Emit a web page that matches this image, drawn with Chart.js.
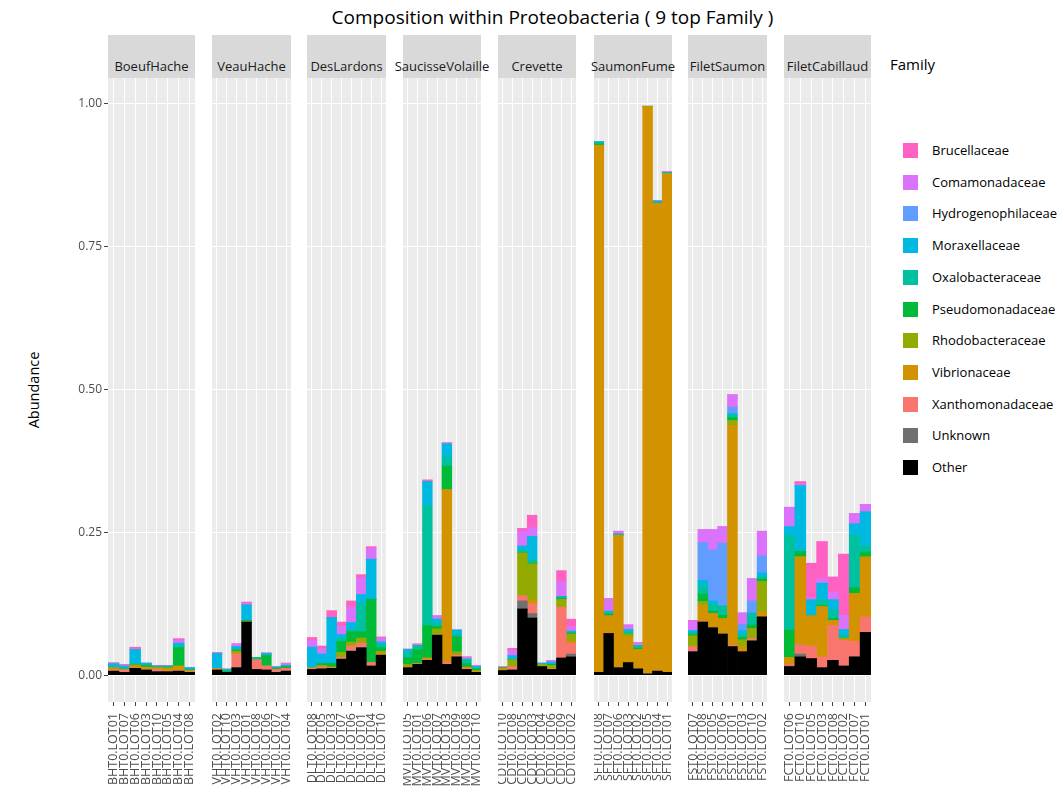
<!DOCTYPE html>
<html><head><meta charset="utf-8">
<script src="https://cdn.jsdelivr.net/npm/chart.js@4.4.1/dist/chart.umd.min.js"></script>
<style>
body{margin:0;width:1063px;height:788px;position:relative;background:#fff;font-family:'Open Sans',sans-serif;overflow:hidden}
.strip{position:absolute;top:35px;height:43px;background:#d9d9d9;display:flex;justify-content:center;align-items:flex-end;font-size:13px;line-height:15px;color:#1a1a1a;white-space:nowrap;box-sizing:border-box;padding-bottom:4px}
canvas{position:absolute}
#title{position:absolute;top:4px;left:0;width:1105px;text-align:center;font-size:19px;color:#000}
#ytitle{position:absolute;left:33px;top:390px;transform:translate(-50%,-50%) rotate(-90deg);font-size:14.5px;color:#000;white-space:nowrap}
#legtitle{position:absolute;left:890px;top:54px;font-size:15px;color:#000}
.li{position:absolute;left:903px;height:16px;font-size:13px;color:#000;white-space:nowrap}
.li span.sw{position:absolute;left:0;top:0;width:15px;height:15px}
.li span.tx{position:absolute;left:29px;top:-1px;line-height:17px}
</style></head><body>
<div id="title">Composition within Proteobacteria ( 9 top Family )</div>
<div id="ytitle">Abundance</div>
<div id="legtitle">Family</div>
<div id="legend"></div>
<script>
const facets = ['BoeufHache','VeauHache','DesLardons','SaucisseVolaille','Crevette','SaumonFume','FiletSaumon','FiletCabillaud'];
const samples = [
 'BHT0.LOT01','BHT0.LOT07','BHT0.LOT06','BHT0.LOT03','BHT0.LOT10','BHT0.LOT05','BHT0.LOT04','BHT0.LOT08',
 'VHT0.LOT02','VHT0.LOT10','VHT0.LOT03','VHT0.LOT01','VHT0.LOT08','VHT0.LOT06','VHT0.LOT07','VHT0.LOT04',
 'DLT0.LOT08','DLT0.LOT05','DLT0.LOT03','DLT0.LOT07','DLT0.LOT06','DLT0.LOT01','DLT0.LOT04','DLT0.LOT10',
 'MVT0.LOT05','MVT0.LOT01','MVT0.LOT06','MVT0.LOT07','MVT0.LOT03','MVT0.LOT09','MVT0.LOT08','MVT0.LOT10',
 'CDT0.LOT10','CDT0.LOT08','CDT0.LOT05','CDT0.LOT03','CDT0.LOT04','CDT0.LOT06','CDT0.LOT09','CDT0.LOT02',
 'SFT0.LOT08','SFT0.LOT07','SFT0.LOT06','SFT0.LOT03','SFT0.LOT02','SFT0.LOT05','SFT0.LOT04','SFT0.LOT01',
 'FST0.LOT07','FST0.LOT08','FST0.LOT05','FST0.LOT06','FST0.LOT01','FST0.LOT03','FST0.LOT10','FST0.LOT02',
 'FCT0.LOT06','FCT0.LOT10','FCT0.LOT05','FCT0.LOT03','FCT0.LOT08','FCT0.LOT02','FCT0.LOT07','FCT0.LOT01'];
const yTicks = [0, 0.25, 0.5, 0.75, 1.0];

// one array per family, 8 facets x 8 samples
const Other = [
 .007,.005,.012,.009,.006,.006,.007,.005,
 .009,.005,.013,.093,.010,.009,.005,.007,
 .010,.011,.012,.028,.042,.048,.016,.035,
 .013,.019,.026,.070,.019,.032,.010,.005,
 .008,.009,.116,.100,.015,.010,.030,.032,
 .005,.073,.013,.022,.011,.002,.007,.005,
 .041,.093,.083,.072,.050,.041,.060,.102,
 .015,.032,.029,.013,.026,.016,.032,.075];
const Unknown = [
 0,0,0,0,0,0,0,0,
 0,0,0,0,0,0,0,0,
 0,0,0,0,0,0,0,0,
 0,0,0,0,0,0,0,0,
 0,0,.014,.008,0,0,0,.005,
 0,0,0,0,0,.001,0,0,
 0,0,0,0,0,0,0,0,
 .001,.005,0,0,0,0,0,0];
const Xanthomonadaceae = [
 .002,.004,.001,.001,.004,.001,.001,.001,
 .001,0,.024,0,.016,.007,.005,.005,
 .002,.003,.001,.003,.009,.008,.006,0,
 .001,.001,.001,0,.004,.003,.002,0,
 .001,.006,.009,.017,0,.001,.089,.019,
 0,0,0,0,0,0,0,0,
 .009,0,0,0,.002,0,.004,0,
 .003,.016,.022,.019,.061,.045,.027,.027];
const Vibrionaceae = [
 .004,.001,.003,.004,.003,.005,.008,.002,
 .002,0,.002,0,.001,0,0,0,
 .001,.001,.001,0,0,0,0,.003,
 0,0,.003,0,.302,0,.002,.002,
 0,0,0,.006,0,0,0,.003,
 .922,.031,.232,.045,.034,.992,.819,.873,
 0,.029,.025,.027,.385,.009,0,.009,
 .012,.154,.053,.088,.009,.003,.084,.105];
const Rhodobacteraceae = [
 0,0,.002,0,0,.001,0,0,
 0,0,.003,.001,0,0,0,0,
 0,.002,0,.009,.007,.009,0,.004,
 .005,0,0,.011,0,.006,0,.001,
 .004,.012,.075,.064,.004,.006,.014,.013,
 .001,0,0,.005,0,.001,0,0,
 .019,.007,0,0,.009,.012,.018,.053,
 0,0,0,0,0,0,0,0];
const Pseudomonadaceae = [
 0,0,0,.003,.001,.001,.032,.001,
 0,.002,.002,.002,0,.018,.002,.003,
 0,.003,.007,.019,.018,.011,.111,.006,
 .012,.025,.057,.004,.041,.026,.006,.003,
 0,0,0,.001,0,.002,.002,.002,
 .002,.003,0,0,.002,0,0,0,
 .002,.013,.004,.006,.005,.004,.006,.004,
 .048,.010,0,.002,.003,0,.010,.009];
const Oxalobacteraceae = [
 .001,.003,.002,.002,.001,.001,.004,.002,
 0,.002,.002,0,.004,.002,.002,.002,
 0,0,0,.006,.004,.050,0,.006,
 .010,.007,.210,.006,.016,.005,.008,.002,
 0,0,.005,.006,.001,0,0,0,
 .003,.002,.002,.004,.005,0,.002,.002,
 .004,.015,.013,.016,.005,.004,.020,.005,
 .166,0,0,.010,.015,.006,.092,.010];
const Moraxellaceae = [
 .006,.003,.025,.002,.001,.001,.004,.002,
 .026,.001,.004,.027,0,.002,0,0,
 .036,.017,.080,.006,.012,.015,.070,.004,
 .004,0,.042,.007,.023,.007,0,.002,
 0,.007,.007,.041,.001,.004,.003,.003,
 .001,.003,0,.004,0,0,.002,0,
 .003,.009,.005,0,.002,.008,.001,.006,
 .015,.115,.028,.029,.018,.010,.020,.060];
const Hydrogenophilaceae = [
 0,0,0,0,0,0,0,0,
 0,0,0,0,0,0,0,0,
 0,0,0,0,0,0,0,0,
 0,0,0,0,0,0,0,0,
 0,0,0,0,0,0,0,0,
 0,0,0,0,0,0,0,0,
 0,.066,.089,.110,.011,.011,.021,.030,
 0,0,0,0,0,0,0,0];
const Comamonadaceae = [
 .001,.002,.001,0,.001,.001,.006,0,
 .001,.001,.005,.003,0,.001,.001,.004,
 .012,.009,0,.014,.027,.029,.019,.007,
 0,.002,0,.006,.002,0,.004,.002,
 .002,.010,.026,.015,0,.003,.026,.008,
 0,.022,.005,.008,.005,0,.001,.002,
 .017,.023,.036,.029,.022,.020,.039,.043,
 .034,.003,.003,.008,.013,.025,.018,.013];
const Brucellaceae = [
 .001,.001,.003,0,0,0,.002,0,
 .001,0,0,.002,0,0,0,0,
 .005,.005,.012,.008,.011,.006,.003,.002,
 .001,.001,.003,0,0,0,0,0,
 0,.003,.005,.022,0,0,.019,.013,
 0,0,0,0,0,0,0,0,
 .001,0,0,0,0,0,0,0,
 0,.004,.061,.065,.027,.107,0,0];

// legend order (top to bottom) and colours
const legendNames = ['Brucellaceae','Comamonadaceae','Hydrogenophilaceae','Moraxellaceae','Oxalobacteraceae','Pseudomonadaceae','Rhodobacteraceae','Vibrionaceae','Xanthomonadaceae','Unknown','Other'];
const legendColors = ['#FF61C3','#DB72FB','#619CFF','#00B9E3','#00C19F','#00BA38','#93AA00','#D39200','#F8766D','#707070','#000000'];
const seriesByName = {Brucellaceae,Comamonadaceae,Hydrogenophilaceae,Moraxellaceae,Oxalobacteraceae,Pseudomonadaceae,Rhodobacteraceae,Vibrionaceae,Xanthomonadaceae,Unknown,Other};

// layout
const panelL = [108,212,307,403,498,594,688,784];
const panelR = [195,291,386,481,576,672,767,871];
const PTOP = 78, PBOT = 702, PAGE_H = 788, YAXW = 108;

Chart.defaults.font.family = "'Open Sans', sans-serif";

// legend
const leg = document.getElementById('legend');
legendNames.forEach((n,i)=>{
  const d = document.createElement('div');
  d.className='li';
  d.style.top = (143 + i*31.7) + 'px';
  d.innerHTML = '<span class="sw" style="background:'+legendColors[i]+'"></span><span class="tx">'+n+'</span>';
  leg.appendChild(d);
});

const bgPlugin = {
  id:'panelbg',
  beforeDraw(chart){
    const {ctx, chartArea:a} = chart;
    ctx.save(); ctx.fillStyle='#ebebeb';
    ctx.fillRect(a.left, a.top, a.right-a.left, a.bottom-a.top);
    ctx.restore();
  }
};

const zeroPad = s => { s.paddingTop=0; s.paddingBottom=0; s.paddingLeft=0; s.paddingRight=0; };

facets.forEach((f, fi) => {
  const strip = document.createElement('div');
  strip.className='strip';
  strip.style.left = panelL[fi]+'px';
  strip.style.width = (panelR[fi]-panelL[fi])+'px';
  strip.textContent = f;
  document.body.appendChild(strip);

  const first = fi === 0;
  const cv = document.createElement('canvas');
  const left = first ? 0 : panelL[fi];
  const w = panelR[fi] - left;
  const h = PAGE_H - PTOP;
  cv.width = w; cv.height = h;
  cv.style.left = left+'px'; cv.style.top = PTOP+'px';
  cv.style.width = w+'px'; cv.style.height = h+'px';
  document.body.appendChild(cv);

  const labels = samples.slice(fi*8, fi*8+8);
  const order = legendNames.slice().reverse(); // bottom to top
  const datasets = order.map(n => {
    const ci = legendNames.indexOf(n);
    return {
      label:n,
      data: seriesByName[n].slice(fi*8, fi*8+8),
      backgroundColor: legendColors[ci],
      borderWidth:0,
      barPercentage:1,
      categoryPercentage:1
    };
  });

  new Chart(cv, {
    type:'bar',
    data:{labels, datasets},
    plugins:[bgPlugin],
    options:{
      responsive:false,
      animation:false,
      events:[],
      layout:{padding:0},
      plugins:{legend:{display:false}, tooltip:{enabled:false}, title:{display:false}},
      scales:{
        x:{
          stacked:true,
          offset:true,
          border:{display:false},
          grid:{offset:false, color:'#ffffff', lineWidth:1, drawTicks:true, tickLength:4, tickColor:'#444444'},
          ticks:{autoSkip:false, minRotation:90, maxRotation:90, padding:7, color:'#4d4d4d', font:{size:12.5}},
          afterFit: s => { s.height = h - (PBOT-PTOP); zeroPad(s); }
        },
        y:{
          stacked:true,
          min:-0.047, max:1.0455,
          border:{display:false},
          grid:{color:'#ffffff', lineWidth:1, drawTicks:first, tickLength:4, tickColor:'#444444'},
          ticks:{display:first, padding:2, color:'#4d4d4d', font:{size:12}, callback:v=>Number(v).toFixed(2)},
          afterBuildTicks: s => { s.ticks = yTicks.map(v=>({value:v})); },
          afterFit: s => { s.width = first ? YAXW : 0; zeroPad(s); }
        }
      }
    }
  });
});
</script>
</body></html>
